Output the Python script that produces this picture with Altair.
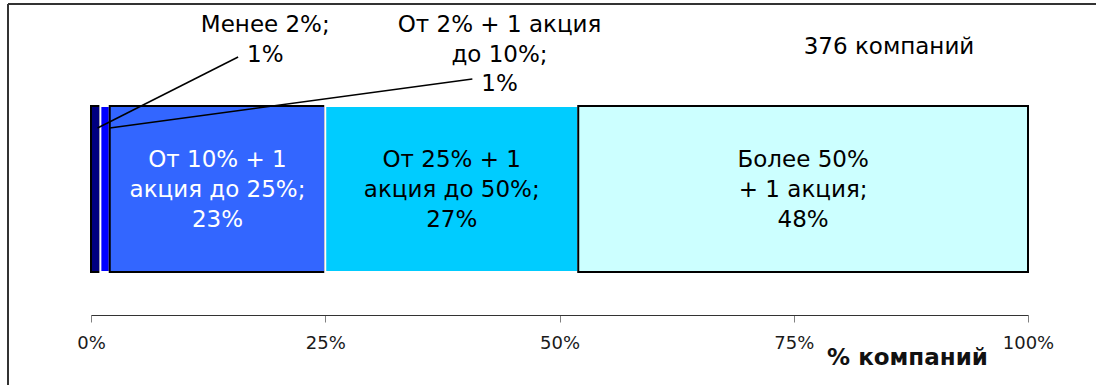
import altair as alt
import pandas as pd

# Ownership brackets (share of capital held) and the share of companies in each
categories = [
    "Менее 2%;",
    "От 2% + 1 акция\nдо 10%;",
    "От 10% + 1\nакция до 25%;",
    "От 25% + 1\nакция до 50%;",
    "Более 50%\n+ 1 акция;",
]
shares = [1, 1, 23, 27, 48]
fills = ["#000080", "#0000FF", "#3366FF", "#00CCFF", "#CCFFFF"]
outlines = ["#000000", "#FFFFFF", "#000000", "#FFFFFF", "#000000"]
text_colors = ["#000000", "#000000", "#FFFFFF", "#000000", "#000000"]
tick_values = [0, 25, 50, 75, 100]
total_note = "376 компаний"

FONT = "DejaVu Sans"

starts, acc = [], 0
for s in shares:
    starts.append(acc)
    acc += s

seg = pd.DataFrame({
    "category": categories,
    "share": shares,
    "start": starts,
    "end": [a + s for a, s in zip(starts, shares)],
    "mid": [a + s / 2 for a, s in zip(starts, shares)],
    "fill": fills,
    "outline": outlines,
    "tcolor": text_colors,
})
seg["label"] = seg["category"] + "\n" + seg["share"].astype(str) + "%"

xscale = alt.Scale(domain=[0, 100], nice=False, zero=False)
# vertical layout scale: one unit per pixel, measured from the top
yscale = alt.Scale(domain=[0, 315], range=[0, 315], nice=False, zero=False)

xaxis = alt.Axis(
    values=tick_values,
    labelExpr="datum.value + '%'",
    labelFlush=False,
    grid=False,
    tickSize=7,
    tickColor="#808080",
    domainColor="#333333",
    labelFont=FONT,
    labelFontSize=18,
    labelColor="#1a1a1a",
    labelPadding=12,
    title="% компаний",
    titleFont=FONT,
    titleFontSize=23,
    titleFontWeight="bold",
    titleColor="#111111",
    titleX=816,
    titleY=42,
    titleAlign="center",
    titleBaseline="middle",
)

bars = alt.Chart(seg).mark_bar(strokeWidth=2).encode(
    x=alt.X("start:Q", scale=xscale, axis=xaxis),
    x2="end:Q",
    y=alt.value(106),
    y2=alt.value(272),
    color=alt.Color("fill:N", scale=None),
    stroke=alt.Stroke("outline:N", scale=None),
)

inner = alt.Chart(seg[seg["share"] > 5]).mark_text(
    font=FONT, fontSize=23, lineBreak="\n", lineHeight=30,
    align="center", baseline="middle",
).encode(
    x=alt.X("mid:Q", scale=xscale),
    y=alt.value(160),
    text="label:N",
    color=alt.Color("tcolor:N", scale=None),
)

# Call-outs for the two thin segments (label placement in axis units)
small = seg[seg["share"] <= 5].copy()
small["lx"] = [18.6, 43.6]
small["ly"] = [25, 25]
small["anchor"] = [0.7, 2.0]
small["ay"] = [128, 128]
small["ex"] = [15.7, 40.7]
small["ey"] = [57, 79]

callouts = alt.Chart(small).mark_text(
    font=FONT, fontSize=23, lineBreak="\n", lineHeight=29.5,
    align="center", baseline="middle", color="#000000",
).encode(
    x=alt.X("lx:Q", scale=xscale),
    y=alt.Y("ly:Q", scale=yscale, axis=None),
    text="label:N",
)

leaders = alt.Chart(small).mark_rule(color="#000000", strokeWidth=1.5).encode(
    x=alt.X("anchor:Q", scale=xscale),
    y=alt.Y("ay:Q", scale=yscale, axis=None),
    x2="ex:Q",
    y2="ey:Q",
)

note = alt.Chart(pd.DataFrame({"t": [total_note]})).mark_text(
    font=FONT, fontSize=23, align="center", baseline="middle", color="#000000",
).encode(x=alt.value(798), y=alt.value(47), text="t:N")

frame_df = pd.DataFrame({"k": [0]})
frame_top = alt.Chart(frame_df).mark_rule(color="#333333", strokeWidth=2).encode(
    x=alt.value(-83), x2=alt.value(1010), y=alt.value(4)
)
frame_left = alt.Chart(frame_df).mark_rule(color="#333333", strokeWidth=2).encode(
    x=alt.value(-83), y=alt.value(4), y2=alt.value(400)
)

chart = alt.layer(
    frame_top, frame_left, bars, leaders, inner, callouts, note
).properties(
    width=937,
    height=315,
    autosize=alt.AutoSizeParams(type="none"),
    padding={"left": 91, "top": 0, "right": 68, "bottom": 70},
    background="#FFFFFF",
).configure_view(stroke=None)

chart.save("out.html", embed_options={"renderer": "svg", "actions": False})
